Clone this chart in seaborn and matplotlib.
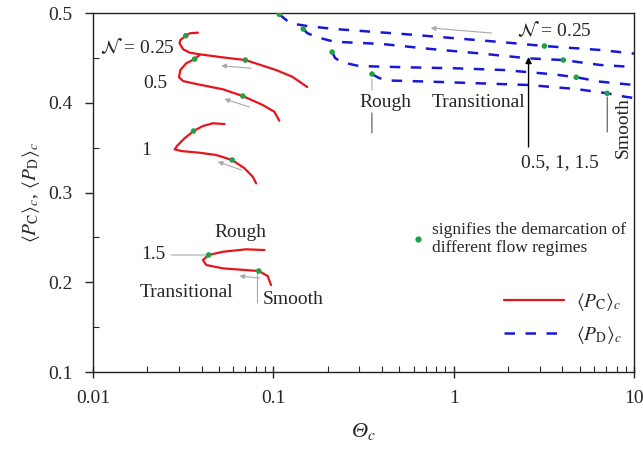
import numpy as np
import pandas as pd
import matplotlib
matplotlib.use("Agg")
import matplotlib.pyplot as plt
from matplotlib.lines import Line2D
from matplotlib.ticker import FuncFormatter, MultipleLocator, LogLocator
import seaborn as sns

# <P_C>_c curves (red), one per N
pc_theta_025 = [0.0382, 0.0344, 0.0327, 0.0305, 0.0302, 0.0316, 0.0344, 0.0390, 0.0523, 0.0700, 0.1035, 0.1274, 0.1541]
pc_val_025 = [0.4781, 0.4774, 0.4747, 0.4699, 0.4662, 0.4596, 0.4558, 0.4540, 0.4506, 0.4476, 0.4365, 0.4290, 0.4176]
pc_theta_05 = [0.0390, 0.0366, 0.0329, 0.0305, 0.0300, 0.0316, 0.0374, 0.0525, 0.0677, 0.0873, 0.1013, 0.1079]
pc_val_05 = [0.4532, 0.4487, 0.4440, 0.4365, 0.4284, 0.4242, 0.4209, 0.4150, 0.4075, 0.3975, 0.3900, 0.3800]
pc_theta_1 = [0.0536, 0.0462, 0.0407, 0.0361, 0.0322, 0.0292, 0.0284, 0.0309, 0.0390, 0.0482, 0.0591, 0.0692, 0.0769, 0.0803]
pc_val_1 = [0.3763, 0.3771, 0.3741, 0.3685, 0.3604, 0.3518, 0.3481, 0.3462, 0.3443, 0.3418, 0.3362, 0.3270, 0.3176, 0.3102]
pc_theta_15 = [0.0892, 0.0706, 0.0525, 0.0438, 0.0407, 0.0425, 0.0525, 0.0830, 0.0930, 0.0971]
pc_val_15 = [0.2359, 0.2367, 0.2340, 0.2304, 0.2248, 0.2192, 0.2155, 0.2125, 0.2070, 0.1969]

# <P_D>_c curves (blue dashed), one per N
pd_theta_025 = [0.1079, 0.1242, 0.1541, 0.2173, 0.5501, 1.026, 1.889, 3.183, 4.782, 6.490, 10.0]
pd_val_025 = [0.4986, 0.4885, 0.4855, 0.4822, 0.4763, 0.4718, 0.4674, 0.4632, 0.4607, 0.4588, 0.4548]
pd_theta_05 = [0.1465, 0.1541, 0.1729, 0.2173, 0.4002, 0.7463, 1.375, 2.597, 4.053, 6.490, 10.0]
pd_val_05 = [0.4822, 0.4777, 0.4733, 0.4680, 0.4655, 0.4599, 0.4551, 0.4495, 0.4476, 0.4421, 0.4398]
pd_theta_1 = [0.2118, 0.2200, 0.2375, 0.2987, 0.5501, 1.026, 1.889, 3.569, 4.782, 6.490, 10.0]
pd_val_1 = [0.4565, 0.4499, 0.4454, 0.4409, 0.4395, 0.4384, 0.4365, 0.4317, 0.4284, 0.4235, 0.4198]
pd_theta_15 = [0.3524, 0.3851, 0.4375, 0.7463, 1.375, 2.597, 4.782, 7.093, 8.918, 10.0]
pd_val_15 = [0.4320, 0.4276, 0.4248, 0.4235, 0.4217, 0.4198, 0.4153, 0.4105, 0.4067, 0.4053]

# regime demarcation points (green)
demarc_theta = [0.0327, 0.0700, 0.0366, 0.0677, 0.0361, 0.0591, 0.0438, 0.0830,
                0.1079, 0.1465, 0.2118, 0.3524, 3.183, 4.053, 4.782, 7.093]
demarc_val = [0.4747, 0.4476, 0.4487, 0.4075, 0.3685, 0.3362, 0.2304, 0.2125,
              0.4986, 0.4822, 0.4565, 0.4320, 0.4632, 0.4476, 0.4284, 0.4105]

x_ticks = [0.01, 0.1, 1, 10]
y_ticks = [0.1, 0.2, 0.3, 0.4, 0.5]

RED = "#e8141c"
BLUE = "#1818d8"
GREEN = "#22a045"
GRAY = "#a8a8a8"


def to_frame(curves):
    parts = []
    for name, th, val in curves:
        parts.append(pd.DataFrame({"theta": th, "p": val, "curve": name}))
    return pd.concat(parts, ignore_index=True)


df_c = to_frame([("0.25", pc_theta_025, pc_val_025), ("0.5", pc_theta_05, pc_val_05),
                 ("1", pc_theta_1, pc_val_1), ("1.5", pc_theta_15, pc_val_15)])
df_d = to_frame([("0.25", pd_theta_025, pd_val_025), ("0.5", pd_theta_05, pd_val_05),
                 ("1", pd_theta_1, pd_val_1), ("1.5", pd_theta_15, pd_val_15)])

sns.set_style("ticks")
plt.rcParams["font.family"] = ["Liberation Serif", "DejaVu Serif"]
plt.rcParams["mathtext.fontset"] = "stix"
plt.rcParams["font.size"] = 14

fig = plt.figure(figsize=(6.43, 4.55), dpi=100)
ax = fig.add_axes([0.1446, 0.1824, 0.8415, 0.789])
ax.set_xscale("log")

dash = (0, (4.2, 4.2))
sns.lineplot(data=df_c, x="theta", y="p", units="curve", estimator=None, sort=False,
             color=RED, lw=1.6, ax=ax, legend=False)
sns.lineplot(data=df_d, x="theta", y="p", units="curve", estimator=None, sort=False,
             color=BLUE, lw=1.8, linestyle=dash, ax=ax, legend=False)
sns.scatterplot(x=demarc_theta, y=demarc_val, color=GREEN, s=16, edgecolor="none",
                zorder=5, ax=ax)

ax.set_xlim(0.01, 10)
ax.set_ylim(0.1, 0.5)
ax.set_xticks(x_ticks)
ax.set_yticks(y_ticks)
ax.xaxis.set_minor_locator(LogLocator(base=10, subs=np.arange(2, 10)))
ax.yaxis.set_minor_locator(MultipleLocator(0.05))
ax.xaxis.set_major_formatter(FuncFormatter(lambda v, p: f"{v:g}"))
ax.yaxis.set_major_formatter(FuncFormatter(lambda v, p: f"{v:.1f}"))
ax.tick_params(axis="x", which="major", direction="inout", length=8, width=1, pad=9)
ax.tick_params(axis="x", which="minor", direction="in", length=4, width=0.8)
ax.tick_params(axis="y", which="major", direction="out", length=6, width=1, pad=9)
ax.tick_params(axis="y", which="minor", direction="in", length=4, width=0.8)
for s in ax.spines.values():
    s.set_linewidth(1.0)
    s.set_color("#222222")

ax.set_xlabel(r"Θ$_c$", fontsize=16, fontstyle="italic", labelpad=10)
ax.set_ylabel(r"$\langle P_{\mathrm{C}}\rangle_c$, $\langle P_{\mathrm{D}}\rangle_c$",
              fontsize=14, labelpad=4)

# N labels, left group
ax.text(0.0284, 0.462, r"$\mathcal{N}$ = 0.25", ha="right", va="center")
ax.text(0.0258, 0.422, "0.5", ha="right", va="center")
ax.text(0.0210, 0.347, "1", ha="right", va="center")
ax.annotate("1.5", xy=(0.0432, 0.2304), xytext=(0.0252, 0.2304), ha="right", va="center",
            arrowprops=dict(arrowstyle="-", color=GRAY, lw=0.8, shrinkA=2, shrinkB=0))
ax.text(0.0657, 0.2549, "Rough", ha="center", va="center")
ax.text(0.0331, 0.1891, "Transitional", ha="center", va="center")
ax.text(0.0875, 0.1813, "Smooth", ha="left", va="center")
ax.annotate("", xy=(0.0817, 0.2105), xytext=(0.0817, 0.1770),
            arrowprops=dict(arrowstyle="-", color=GRAY, lw=0.8, shrinkA=0, shrinkB=0))

# direction arrows (gray)
for tail, head in [((0.0753, 0.4384), (0.0514, 0.4413)),
                   ((0.0737, 0.3953), (0.0536, 0.4042)),
                   ((0.0663, 0.3251), (0.0492, 0.3343)),
                   ((0.0837, 0.2047), (0.0649, 0.2070)),
                   ((1.62, 0.4777), (0.746, 0.4833))]:
    ax.annotate("", xy=head, xytext=tail,
                arrowprops=dict(arrowstyle="-|>", color=GRAY, lw=0.8, mutation_scale=7,
                                shrinkA=0, shrinkB=0))

# right group labels
ax.text(3.61, 0.4811, r"$\mathcal{N}$ = 0.25", ha="center", va="center")
ax.text(0.416, 0.4008, "Rough", ha="center", va="center")
ax.annotate("", xy=(0.352, 0.4262), xytext=(0.352, 0.4142),
            arrowprops=dict(arrowstyle="-", color=GRAY, lw=0.8, shrinkA=0, shrinkB=0))
ax.annotate("", xy=(0.352, 0.3886), xytext=(0.352, 0.3663),
            arrowprops=dict(arrowstyle="-", color="#555555", lw=0.8, shrinkA=0, shrinkB=0))
ax.text(1.374, 0.4008, "Transitional", ha="center", va="center")
ax.annotate("", xy=(2.60, 0.451), xytext=(2.60, 0.3507),
            arrowprops=dict(arrowstyle="-|>", color="black", lw=1.0, mutation_scale=9,
                            shrinkA=0, shrinkB=0))
ax.text(3.90, 0.3329, "0.5, 1, 1.5", ha="center", va="center")
ax.text(8.69, 0.3719, "Smooth", ha="center", va="center", rotation=90)
ax.annotate("", xy=(7.10, 0.4064), xytext=(7.10, 0.3674),
            arrowprops=dict(arrowstyle="-", color="#555555", lw=0.8, shrinkA=0, shrinkB=0))

# key for green points
dot = Line2D([], [], ls="none", marker="o", ms=4.5, mfc=GREEN, mec="none")
leg1 = ax.legend([dot], ["signifies the demarcation of\ndifferent flow regimes"],
                 loc="center left", bbox_to_anchor=(0.575, 0.37), frameon=False,
                 handlelength=0.8, handletextpad=0.4, borderaxespad=0, fontsize=12.5,
                 labelspacing=0.2)
ax.add_artist(leg1)

h_c = Line2D([], [], color=RED, lw=1.6)
h_d = Line2D([], [], color=BLUE, lw=1.8, ls=dash)
ax.legend([h_c, h_d], [r"$\langle P_{\mathrm{C}}\rangle_c$", r"$\langle P_{\mathrm{D}}\rangle_c$"],
          loc="center left", bbox_to_anchor=(0.745, 0.15), frameon=False,
          handlelength=3.1, handletextpad=0.6, labelspacing=0.55, borderaxespad=0,
          fontsize=14)

fig.savefig("out.png", dpi=100)
